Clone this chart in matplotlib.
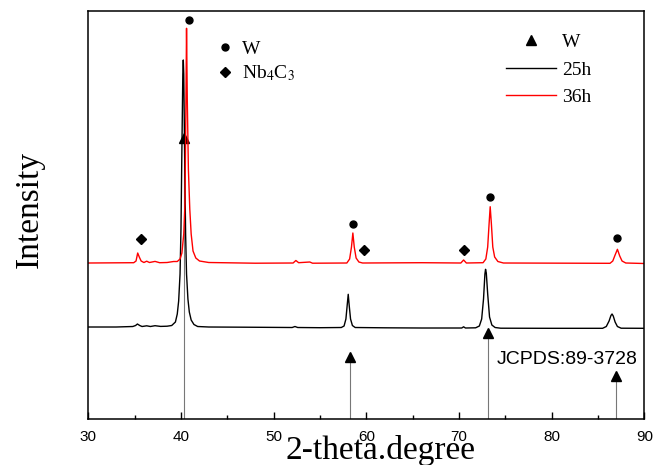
import numpy as np
import matplotlib
matplotlib.use("Agg")
import matplotlib.pyplot as plt
from matplotlib.lines import Line2D

plt.rcParams['font.family'] = ['Liberation Serif', 'DejaVu Serif']
plt.rcParams['mathtext.fontset'] = 'stix'

## XRD patterns (arbitrary intensity units, offset already included)
x_25h = [30, 33, 34.8, 35.1, 35.3, 35.55, 35.8, 36.3, 36.7, 37.2, 37.8, 38.5, 39.0, 39.4,
         39.6, 39.75, 39.9, 40.0, 40.1, 40.2, 40.25, 40.3, 40.4, 40.5, 40.6, 40.75, 40.9,
         41.1, 41.4, 41.8, 43, 47, 52.0, 52.3, 52.6, 55, 57.3, 57.6, 57.8, 57.95, 58.05,
         58.15, 58.3, 58.5, 58.8, 62, 66, 70.3, 70.5, 70.7, 71.8, 72.2, 72.45, 72.65, 72.8,
         72.87, 72.95, 73.1, 73.3, 73.55, 73.9, 74.5, 80, 85.5, 85.9, 86.2, 86.4, 86.52,
         86.65, 86.85, 87.1, 87.5, 90]
y_25h = [92, 92, 92.5, 93.5, 95, 93.5, 92.5, 93.2, 92.5, 93.3, 92.6, 92.8, 93.5, 97,
         105, 118, 145, 190, 270, 345, 359, 345, 260, 185, 145, 120, 107,
         99, 94.5, 92.5, 92, 91.8, 91.5, 92.5, 91.5, 91.3, 91.5, 93, 100, 115, 124.7,
         114, 100, 93.5, 91.5, 91.2, 91, 91, 92.2, 91, 91.2, 93, 100, 120, 145,
         149.7, 146, 125, 102, 94, 91.5, 90.8, 90.7, 90.7, 92.5, 98, 103.5, 105,
         103, 97, 92.5, 90.8, 90.7]

x_36h = [30, 34.9, 35.15, 35.33, 35.5, 35.7, 36.0, 36.3, 36.6, 37.2, 37.7, 38.5, 39.2,
         39.6, 39.9, 40.1, 40.3, 40.43, 40.52, 40.6, 40.68, 40.8, 40.95, 41.1, 41.3, 41.6,
         42, 43, 48, 52.1, 52.4, 52.7, 53.9, 54.2, 57.9, 58.2, 58.4, 58.55, 58.7, 58.9,
         59.2, 59.6, 66, 70.2, 70.5, 70.8, 72.6, 72.9, 73.1, 73.25, 73.37, 73.5, 73.65,
         73.85, 74.2, 74.8, 86.3, 86.6, 86.85, 87.1, 87.35, 87.6, 88, 90]
y_36h = [156, 156.3, 158, 166, 162, 158, 156.5, 157.8, 156.5, 157.6, 156.3, 156.5, 157.5,
         157.5, 160, 166, 185, 215, 300, 390.7, 320, 250, 210, 185, 168, 161,
         158, 156.5, 155.8, 156, 158.5, 156.3, 157, 155.8, 156, 160, 172, 186, 172, 161,
         157, 156, 156.3, 156, 159, 156, 156.3, 160, 172, 195, 212.3, 195, 172,
         162, 157.5, 156, 155.7, 158, 164, 169.7, 163, 158, 156, 155.5]

## JCPDS 89-3728 (W) reference sticks
ref_x = [40.36, 58.23, 73.15, 87.0]
ref_y = [281, 62.3, 85.7, 43]

## phase markers
w_x = [40.86, 58.58, 73.35, 87.05]
w_y = [399, 195, 221.7, 180.7]
nb_x = [35.65, 59.78, 70.5]
nb_y = [180, 169, 169]

fig = plt.figure(figsize=(6.66, 4.65), dpi=100)
ax = fig.add_axes([0.1326, 0.0989, 0.8348, 0.8781])

ax.vlines(ref_x, 0, ref_y, color='#777777', lw=0.8)
ax.plot(ref_x, ref_y, '^', color='k', ms=7.5, ls='none')

ax.plot(x_25h, y_25h, color='k', lw=1.0)
ax.plot(x_36h, y_36h, color='red', lw=1.0)

ax.plot(w_x, w_y, 'o', color='k', ms=5, ls='none')
ax.plot(nb_x, nb_y, 'D', color='k', ms=5, ls='none')

fig.text(567 / 666, 1 - 359 / 465, "JCPDS:89-3728", family='Liberation Sans', fontsize=14,
         ha='center', va='center')

ax.set_xlim(30, 90)
ax.set_ylim(0, 408.3)
ax.set_xticks([30, 40, 50, 60, 70, 80, 90])
ax.set_xticks([35, 45, 55, 65, 75, 85], minor=True)
ax.set_yticks([])
ax.tick_params(axis='x', which='both', direction='in', top=False, labelsize=11,
               labelfontfamily='Liberation Sans', pad=8)
ax.tick_params(axis='x', which='major', length=5, width=1)
ax.tick_params(axis='x', which='minor', length=3, width=1)
for s in ax.spines.values():
    s.set_linewidth(1.1)

ax.set_xlabel("2-theta.degree", fontsize=24)
ax.xaxis.set_label_coords(0.525, -0.038)
ax.set_ylabel("Intensity", fontsize=24)
ax.yaxis.set_label_coords(-0.078, 0.513)

h1 = [Line2D([], [], marker='o', color='k', ls='none', ms=5),
      Line2D([], [], marker='D', color='k', ls='none', ms=5)]
leg1 = ax.legend(h1, ["W", "Nb$_4$C$_3$"], loc='upper left', bbox_to_anchor=(0.217, 0.947),
                 frameon=False, fontsize=14, handlelength=0.8, handletextpad=0.5,
                 labelspacing=0.3, borderaxespad=0)
ax.add_artist(leg1)

h2 = [Line2D([], [], marker='^', color='k', ls='none', ms=7.5),
      Line2D([], [], color='k', lw=1.0),
      Line2D([], [], color='red', lw=1.0)]
ax.legend(h2, ["W", "25h", "36h"], loc='upper left', bbox_to_anchor=(0.7365, 0.963),
          frameon=False, fontsize=14, handlelength=2.6, handletextpad=0.3,
          labelspacing=0.5, borderaxespad=0, numpoints=1)

fig.savefig("out.png", dpi=100)
